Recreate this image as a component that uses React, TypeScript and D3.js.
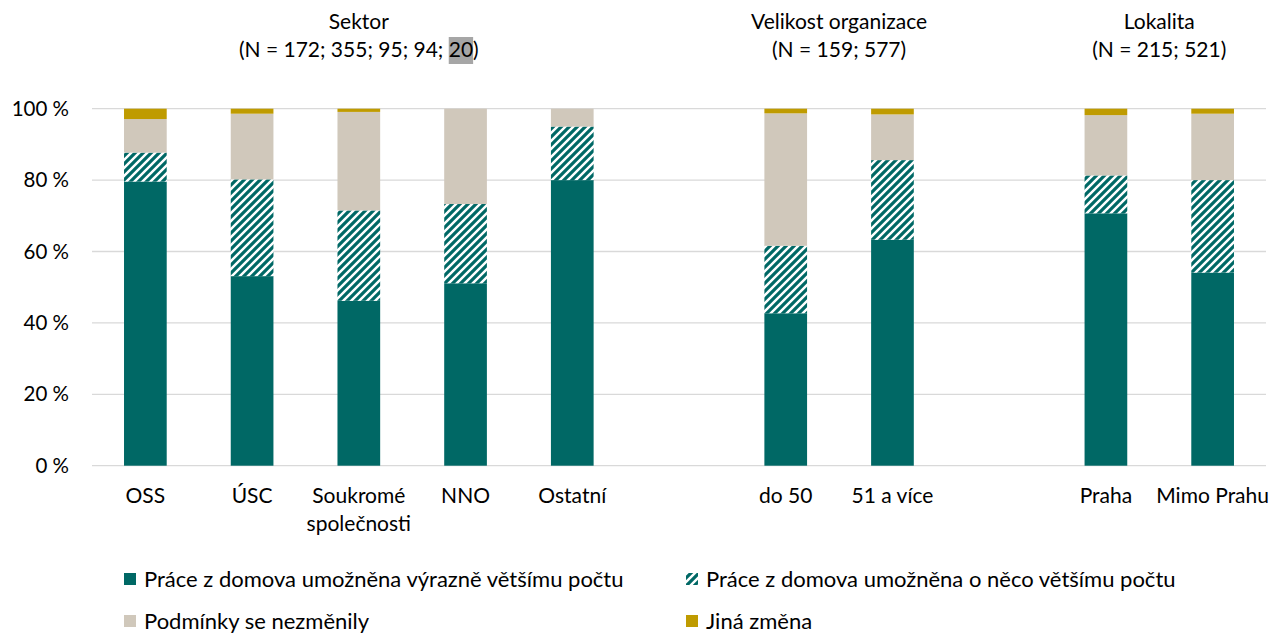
import React, { useEffect, useRef } from "react";
import * as d3 from "d3";

const categories = ["OSS", "ÚSC", "Soukromé|společnosti", "NNO", "Ostatní", "gap1", "do 50", "51 a více", "gap2", "Praha", "Mimo Prahu"];
const significantly = [79.6, 53.1, 46.2, 51.1, 80.0, 0, 42.7, 63.3, 0, 70.7, 54.1];
const somewhat = [8.1, 27.1, 25.3, 22.2, 15.0, 0, 18.9, 22.3, 0, 10.6, 25.9];
const unchanged = [9.4, 18.4, 27.6, 26.7, 5.0, 0, 37.1, 12.8, 0, 16.9, 18.6];
const other = [2.9, 1.4, 0.9, 0, 0, 0, 1.3, 1.6, 0, 1.8, 1.4];
const seriesNames = [
  "Práce z domova umožněna výrazně většímu počtu",
  "Práce z domova umožněna o něco většímu počtu",
  "Podmínky se nezměnily",
  "Jiná změna",
];
const yTicks = [0, 20, 40, 60, 80, 100];
const groups = [
  { title: "Sektor", n: "(N = 172; 355; 95; 94; ", hi: "20", tail: ")", from: "OSS", to: "Ostatní" },
  { title: "Velikost organizace", n: "(N = 159; 577)", hi: "", tail: "", from: "do 50", to: "51 a více" },
  { title: "Lokalita", n: "(N = 215; 521)", hi: "", tail: "", from: "Praha", to: "Mimo Prahu" },
];

const W = 1287, H = 633;
const FONT = "Lato, 'Noto Sans', sans-serif";
const FS = 21;
const TEAL = "#006865";
const BEIGE = "#D0C8BB";
const GOLD = "#BF9B00";

export default function App() {
  const ref = useRef<SVGSVGElement>(null);
  useEffect(() => {
    const svg = d3.select(ref.current);
    svg.selectAll("*").remove();

    const defs = svg.append("defs");
    const pat = defs.append("pattern").attr("id", "hatch").attr("patternUnits", "userSpaceOnUse")
      .attr("width", 8).attr("height", 8);
    pat.append("rect").attr("width", 8).attr("height", 8).attr("fill", "#fff");
    pat.append("path").attr("d", "M-2,2 L2,-2 M0,8 L8,0 M6,10 L10,6")
      .attr("stroke", TEAL).attr("stroke-width", 3.2);

    const x = d3.scaleBand<string>().domain(categories).range([92, 1266]).paddingInner(0.6).paddingOuter(0.3);
    const y = d3.scaleLinear().domain([0, 100]).range([465.7, 108.7]);

    svg.append("g").selectAll("line").data(yTicks).join("line")
      .attr("x1", 92).attr("x2", 1266)
      .attr("y1", d => y(d)).attr("y2", d => y(d))
      .attr("stroke", "#D9D9D9").attr("stroke-width", 1.3);

    svg.append("g").selectAll("text").data(yTicks).join("text")
      .attr("x", 69).attr("y", d => y(d)).attr("dy", "0.35em")
      .attr("text-anchor", "end").attr("font-family", FONT).attr("font-size", 20.5).attr("fill", "#000")
      .text(d => `${d} %`);

    const rows = categories.map((c, i) => ({
      cat: c, a: significantly[i], b: somewhat[i], c: unchanged[i], d: other[i],
    }));
    const stack = d3.stack<any>().keys(["a", "b", "c", "d"]);
    const stacked = stack(rows);
    const fills = [TEAL, "url(#hatch)", BEIGE, GOLD];

    stacked.forEach((layer, li) => {
      svg.append("g").selectAll("rect").data(layer.filter(d => !d.data.cat.startsWith("gap") && d[1] - d[0] > 0)).join("rect")
        .attr("x", d => x(d.data.cat)!)
        .attr("width", x.bandwidth())
        .attr("y", d => y(d[1]))
        .attr("height", d => y(d[0]) - y(d[1]))
        .attr("fill", fills[li]);
    });

    const xl = svg.append("g");
    categories.forEach(c => {
      if (c.startsWith("gap")) return;
      const lines = c.split("|");
      const t = xl.append("text").attr("text-anchor", "middle").attr("font-family", FONT)
        .attr("font-size", FS).attr("fill", "#000");
      lines.forEach((ln, i) => {
        t.append("tspan").attr("x", x(c)! + x.bandwidth() / 2).attr("y", 503 + i * 28).text(ln);
      });
    });

    groups.forEach(g => {
      const cx = (x(g.from)! + x(g.to)! + x.bandwidth()) / 2;
      svg.append("text").attr("x", cx).attr("y", 29).attr("text-anchor", "middle")
        .attr("font-family", FONT).attr("font-size", FS).attr("fill", "#000").text(g.title);
      const t = svg.append("text").attr("x", cx).attr("y", 57).attr("text-anchor", "middle")
        .attr("font-family", FONT).attr("font-size", FS).attr("fill", "#000");
      t.append("tspan").text(g.n);
      if (g.hi) {
        t.append("tspan").text(g.hi);
        t.append("tspan").text(g.tail);
        const node = t.node() as SVGTextElement;
        const full = node.getComputedTextLength();
        const startX = cx - full / 2;
        const n1 = node.getSubStringLength(0, g.n.length);
        const n2 = node.getSubStringLength(g.n.length, g.hi.length);
        svg.insert("rect", () => node).attr("x", startX + n1).attr("y", 37)
          .attr("width", n2).attr("height", 27).attr("fill", "#A6A6A6");
      }
    });

    const legend = [
      { x: 124, y: 579, i: 0 },
      { x: 686, y: 579, i: 1 },
      { x: 124, y: 621, i: 2 },
      { x: 686, y: 621, i: 3 },
    ];
    legend.forEach(l => {
      svg.append("rect").attr("x", l.x).attr("y", l.y - 6).attr("width", 12).attr("height", 12)
        .attr("fill", fills[l.i]);
      svg.append("text").attr("x", l.x + 20).attr("y", l.y).attr("dy", "0.35em")
        .attr("font-family", FONT).attr("font-size", 22).attr("fill", "#000").text(seriesNames[l.i]);
    });
  }, []);
  return (
    <svg ref={ref} width={W} height={H} style={{ position: "absolute", left: 0, top: 0, background: "#fff" }} />
  );
}
